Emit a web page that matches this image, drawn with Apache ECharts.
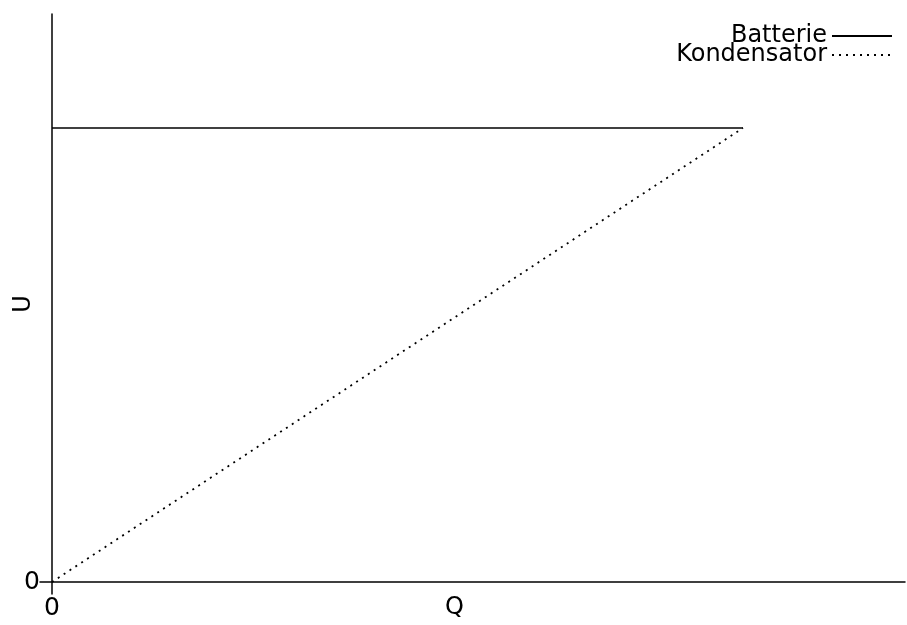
<!DOCTYPE html>
<html><head><meta charset="utf-8">
<script src="https://cdn.jsdelivr.net/npm/echarts@6/dist/echarts.min.js"></script>
<style>html,body{margin:0;padding:0;background:#fff}#c{width:907px;height:625px}</style>
</head><body><div id="c"></div>
<script>
const seriesNames = ['Batterie', 'Kondensator'];
const batterieQ = [0, 1];
const batterieU = [1, 1];
const kondensatorQ = [0, 1];
const kondensatorU = [0, 1];
const xTickValues = [0];
const xTickLabels = ['0'];
const yTickValues = [0];
const yTickLabels = ['0'];

const chart = echarts.init(document.getElementById('c'));
const font = 'DejaVu Sans';
chart.setOption({
  animation: false,
  backgroundColor: '#fff',
  grid: { left: 40, right: 2, top: 14, bottom: 31, outerBoundsMode: 'none', containLabel: false },
  legend: {
    right: 9, top: 19, orient: 'vertical', align: 'right',
    itemWidth: 60, itemHeight: 14, itemGap: -5,
    itemStyle: { opacity: 0 },
    textStyle: { fontFamily: font, fontSize: 24, lineHeight: 15, color: '#000', padding: [0, 0, 0, 0] },
    data: seriesNames
  },
  xAxis: {
    type: 'value', min: -0.01737, max: 1.2345,
    name: 'Q', nameLocation: 'middle', nameGap: 2, nameMoveOverlap: false,
    nameTextStyle: { fontFamily: font, fontSize: 24, color: '#000', verticalAlign: 'top', padding: [0, 36, 0, 0] },
    axisLine: { onZero: true, lineStyle: { color: '#000', width: 1.5 } },
    axisTick: { show: false },
    axisLabel: { fontFamily: font, fontSize: 25, color: '#000', margin: 2,
      customValues: xTickValues, formatter: (v) => xTickLabels[xTickValues.indexOf(v)] },
    splitLine: { show: false }
  },
  yAxis: {
    type: 'value', min: -0.02643, max: 1.2511,
    name: 'U', nameLocation: 'middle', nameGap: 4, nameRotate: 90, nameMoveOverlap: false,
    nameTextStyle: { fontFamily: font, fontSize: 24, color: '#000' },
    axisLine: { onZero: true, lineStyle: { color: '#000', width: 1.5 } },
    axisTick: { show: false },
    axisLabel: { fontFamily: font, fontSize: 25, color: '#000', margin: 0,
      customValues: yTickValues, formatter: (v) => yTickLabels[yTickValues.indexOf(v)] },
    splitLine: { show: false }
  },
  series: [
    { name: seriesNames[0], type: 'line', symbol: 'none', color: '#000',
      lineStyle: { color: '#000', width: 1.5, type: 'solid' },
      data: batterieQ.map((q, i) => [q, batterieU[i]]) },
    { name: seriesNames[1], type: 'line', symbol: 'none', color: '#000',
      lineStyle: { color: '#000', width: 1.8, type: [2, 5] },
      data: kondensatorQ.map((q, i) => [q, kondensatorU[i]]) }
  ]
});
</script></body></html>
